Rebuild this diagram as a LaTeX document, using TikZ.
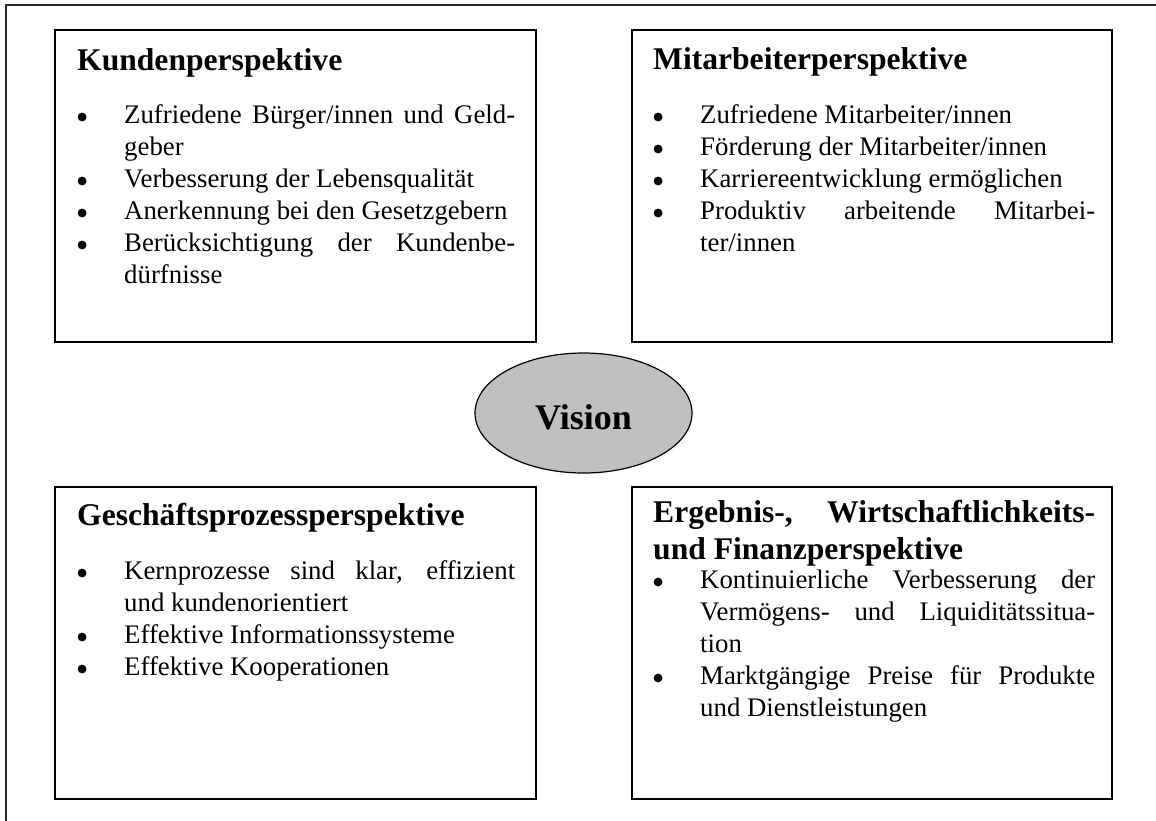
\documentclass[tikz,border=0pt]{standalone}
\usepackage{fontspec}
\setmainfont{Liberation Serif}
\usetikzlibrary{shapes.geometric}
\definecolor{silver}{RGB}{192,192,192}
\definecolor{framegray}{RGB}{40,40,40}

% round list bullet
\newcommand\bdot{\tikz[baseline=-6pt]\fill[black] (0pt,0pt) circle (4.4pt);}
% bullet paragraph with hanging indent
\newcommand\bitem[1]{\par\noindent\hangindent=47pt\hangafter=1%
  \makebox[47pt][l]{\hspace*{0.5pt}\bdot}#1\par}
% bold box heading followed by a gap before the list
\newcommand\ptitle[2]{{\fontsize{31.6}{37}\selectfont\bfseries #1\par}\vspace{#2}}
% fully justified paragraphs, no automatic hyphenation
\newcommand\justifyall{\leftskip=0pt\rightskip=0pt\parfillskip=0pt plus 1fil
  \tolerance=9999\hyphenpenalty=10000\parindent=0pt}

\tikzset{
  panel/.style={draw=black, line width=2.2pt},
  panelbody/.style={anchor=base west, inner sep=0pt, text width=#1,
    align=justify, font=\fontsize{26.8}{32}\selectfont},
  visionshape/.style={ellipse, draw=black, line width=1.2pt, fill=silver,
    minimum width=217pt, minimum height=120pt, inner sep=0pt,
    text height=32pt, text depth=0pt, font=\fontsize{36}{40}\selectfont\bfseries}
}

\begin{document}
\begin{tikzpicture}[x=1pt, y=-1pt]
\useasboundingbox (0,0) rectangle (1156,820);
\clip (0,0) rectangle (1156,820);

% outer frame
\draw[framegray, line width=2pt] (6,5) rectangle (1162,826);

% four panels
\draw[panel] (55,30) rectangle (536,342);
\draw[panel] (632,30) rectangle (1112,342);
\draw[panel] (55,487) rectangle (536,799);
\draw[panel] (632,487) rectangle (1112,799);

% panel contents
\node[panelbody=438pt] (kunden) at (77,70) {\justifyall
  \ptitle{Kundenperspektive}{21pt}%
  \bitem{Zufriedene Bürger/innen und Geld-\linebreak geber}%
  \bitem{Verbesserung der Lebensqualität}%
  \bitem{Anerkennung bei den Gesetzgebern}%
  \bitem{Berücksichtigung der Kundenbe-\linebreak dürfnisse}};

\node[panelbody=442pt] (mitarbeiter) at (653,69) {\justifyall
  \ptitle{Mitarbeiterperspektive}{22pt}%
  \bitem{Zufriedene Mitarbeiter/innen}%
  \bitem{Förderung der Mitarbeiter/innen}%
  \bitem{Karriereentwicklung ermöglichen}%
  \bitem{Produktiv arbeitende Mitarbei-\linebreak ter/innen}};

\node[panelbody=438pt] (prozess) at (77,525) {\justifyall
  \ptitle{Geschäftsprozessperspektive}{22pt}%
  \bitem{Kernprozesse sind klar, effizient\linebreak und kundenorientiert}%
  \bitem{Effektive Informationssysteme}%
  \bitem{Effektive Kooperationen}};

\node[panelbody=442pt] (finanz) at (653,522) {\justifyall
  \ptitle{Ergebnis-, Wirtschaftlichkeits-\linebreak und Finanzperspektive}{-3pt}%
  \bitem{Kontinuierliche Verbesserung der\linebreak Vermögens- und Liquiditätssitua-\linebreak tion}%
  \bitem{Marktgängige Preise für Produkte\linebreak und Dienstleistungen}};

% centre ellipse
\node[visionshape] (vision) at (583.5,413) {Vision};
\end{tikzpicture}
\end{document}
